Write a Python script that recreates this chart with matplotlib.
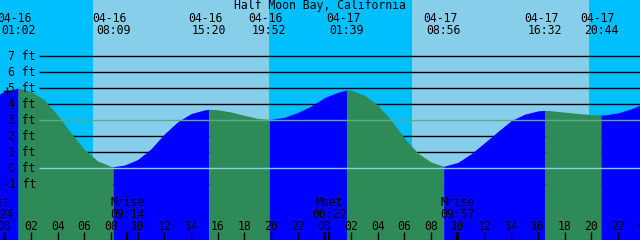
import numpy as np
import matplotlib
matplotlib.use("Agg")
import matplotlib.pyplot as plt

# Tide graph, Half Moon Bay, 04-16 .. 04-17

TITLE = "Half Moon Bay, California"

# hourly tide heights (ft), hours counted from 04-16 00:00
tide_hours = list(range(-1, 49))
tide_heights = [4.35, 4.78, 4.99, 4.78, 4.25, 3.29, 2.19, 1.16, 0.44, 0.10,
                0.18, 0.53, 1.20, 2.13, 2.89, 3.40, 3.63, 3.64, 3.50, 3.29,
                3.10, 3.04, 3.17, 3.47, 3.87, 4.40, 4.73, 4.86, 4.54, 3.93,
                2.98, 1.87, 0.93, 0.37, 0.12, 0.35, 0.89, 1.58, 2.28, 2.96,
                3.36, 3.57, 3.58, 3.49, 3.41, 3.33, 3.32, 3.44, 3.70, 4.05]

# high / low water
event_stamps = ["04-16 01:02", "04-16 08:09", "04-16 15:20", "04-16 19:52",
                "04-17 01:39", "04-17 08:56", "04-17 16:32", "04-17 20:44"]
event_heights = [4.99, 0.08, 3.67, 3.04, 4.88, 0.11, 3.60, 3.31]

# sun
sunrise_stamps = ["04-16 06:38", "04-17 06:35"]
sunset_stamps = ["04-16 19:50", "04-17 19:51"]

# moon
moon_names = ["Mset", "Mrise", "Mset", "Mrise"]
moon_stamps = ["04-15 23:24", "04-16 09:14", "04-17 00:22", "04-17 09:57"]

# current-time marker
now_stamp = "04-16 00:10"
now_height = 4.84

foot_levels = [7, 6, 5, 4, 3, 2, 1, 0, -1]

# colours
NIGHT = "#00BFFF"
DAY = "#87CEEB"
RISING = "#0000FF"
FALLING = "#2E8B57"
MSL_LINE = "#5FA88A"
DATUM_LINE = "#87CEEB"

# pixel layout of the 640x240 picture
PX_PER_H = 13.34
X0_PX = 4.3          # pixel of 04-16 00:00
Y0_PX = 168.0        # pixel of 0 ft
PX_PER_FT = 16.0


def to_hours(stamp):
    md, hm = stamp.split()
    day = int(md.split('-')[1]) - 16
    hh, mm = hm.split(':')
    return day * 24 + int(hh) + int(mm) / 60.0


def hx(px):
    return (px - X0_PX) / PX_PER_H


def fy(px):
    return (Y0_PX - px) / PX_PER_FT


FONT = dict(family="DejaVu Sans Mono", size=8.3, color="black")

fig = plt.figure(figsize=(6.4, 2.4), dpi=100)
ax = fig.add_axes([0, 0, 1, 1])
ax.set_axis_off()
x_min, x_max = hx(0), hx(640)
y_min, y_max = fy(240), fy(0)
ax.set_xlim(x_min, x_max)
ax.set_ylim(y_min, y_max)

# night / day background
ax.axvspan(x_min, x_max, color=NIGHT, lw=0, zorder=0)
for rise, sset in zip(sunrise_stamps, sunset_stamps):
    ax.axvspan(to_hours(rise), to_hours(sset), color=DAY, lw=0, zorder=1)

# foot grid (under the water)
for ft in foot_levels:
    if ft in (0, 3):
        continue
    ax.hlines(ft, hx(39), x_max, color="black", lw=1.0, zorder=2)

# tide curve, coloured by rising / falling
event_hours = [to_hours(s) for s in event_stamps]
t = np.array(tide_hours + event_hours, dtype=float)
h = np.array(tide_heights + event_heights, dtype=float)
order = np.argsort(t)
t, h = t[order], h[order]

bounds = [t[0]] + event_hours + [t[-1]]
for b0, b1 in zip(bounds[:-1], bounds[1:]):
    m = (t >= b0) & (t <= b1)
    seg_t, seg_h = t[m], h[m]
    color = RISING if seg_h[-1] > seg_h[0] else FALLING
    ax.fill_between(seg_t, seg_h, y_min, color=color, lw=0, zorder=3)

# mean level and datum lines drawn on top
ax.hlines(3, hx(39), x_max, color=MSL_LINE, lw=1.0, zorder=4)
ax.hlines(0, hx(39), x_max, color=DATUM_LINE, lw=1.0, zorder=4)

# foot labels
for ft in foot_levels:
    ax.text(hx(36), ft - 0.25, f"{ft} ft", ha="right", va="baseline",
            zorder=6, **FONT)

# title and high/low labels
ax.text(hx(320), fy(9.3), TITLE, ha="center", va="baseline", zorder=6, **FONT)
for stamp in event_stamps:
    x = to_hours(stamp)
    date, clock = stamp.split()
    ax.text(x - 3.5 / PX_PER_H, fy(21.7), date, ha="center", va="baseline",
            zorder=6, **FONT)
    ax.text(x, fy(34), clock, ha="center", va="baseline", zorder=6, **FONT)

# hour ticks and labels
for hr in range(0, 50, 2):
    lw = 2.2 if hr % 24 == 0 else 1.0
    ax.vlines(hr, fy(240), fy(232), color="black", lw=lw, zorder=6)
    ax.text(hr, fy(230), f"{hr % 24:02d}", ha="center", va="baseline",
            zorder=6, **FONT)

# moon rise / set
for name, stamp in zip(moon_names, moon_stamps):
    x = to_hours(stamp)
    ax.vlines(x, fy(240), fy(232), color="black", lw=1.6, zorder=6)
    ax.text(x, fy(206), name, ha="center", va="baseline", zorder=6, **FONT)
    ax.text(x, fy(217.7), stamp.split()[1], ha="center", va="baseline",
            zorder=6, **FONT)

# current time marker
ax.plot([to_hours(now_stamp)], [now_height], marker="+", ms=6, mew=1.0,
        color="black", zorder=7)

fig.savefig("out.png", dpi=100)
